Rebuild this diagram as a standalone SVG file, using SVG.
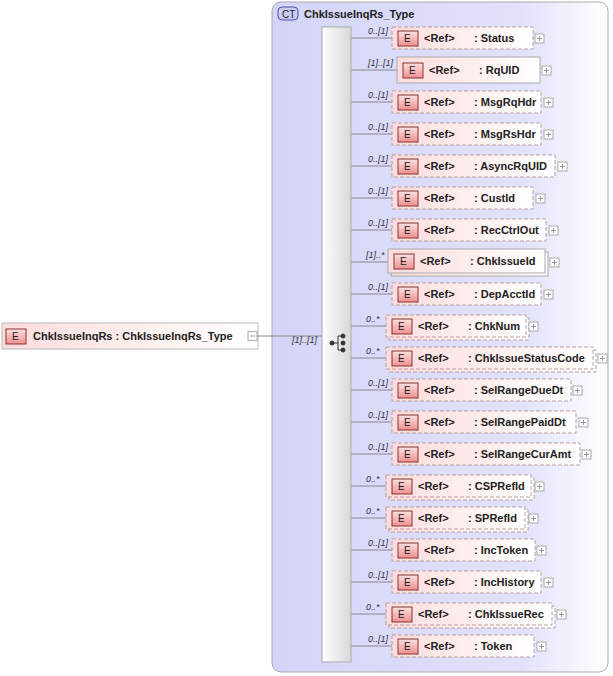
<svg xmlns="http://www.w3.org/2000/svg" width="613" height="676" viewBox="0 0 613 676">
<defs>
<linearGradient id="ct" x1="0" x2="1" y1="0" y2="0"><stop offset="0" stop-color="#d4d4f8"/><stop offset="0.75" stop-color="#e2e2fb"/><stop offset="1" stop-color="#ffffff"/></linearGradient>
<linearGradient id="seq" x1="0" x2="1"><stop offset="0" stop-color="#ffffff"/><stop offset="1" stop-color="#d8d8d8"/></linearGradient>
<linearGradient id="el" x1="0" x2="1"><stop offset="0" stop-color="#fcdcdc"/><stop offset="1" stop-color="#ffffff"/></linearGradient>
<linearGradient id="ic" x1="0" x2="0" y1="0" y2="1"><stop offset="0" stop-color="#fbe0e0"/><stop offset="1" stop-color="#f09090"/></linearGradient>
<g id="plus"><rect x="0" y="0" width="9" height="9" fill="#fff" stroke="#aaa"/><path d="M2 4.5h5M4.5 2v5" stroke="#999"/></g>
</defs>
<style>
text{font-family:"Liberation Sans",Arial,sans-serif;font-size:11px;font-weight:bold;fill:#222}
.m{font-size:9px;font-style:italic;font-weight:normal;fill:#333}
.opt{fill:url(#el);stroke:#b8a0a0;stroke-dasharray:4 2}
.req{fill:url(#el);stroke:#aaa}
.ic{fill:url(#ic);stroke:#8a3030}
.e{font-size:10px;font-weight:normal;fill:#222}
.ln{stroke:#888;fill:none}
</style>
<g id="ct-box">
<rect x="272" y="2" width="336" height="670" rx="9" fill="url(#ct)" stroke="#aaa"/>
<rect x="278" y="7" width="20" height="13" rx="4" fill="#ccccf8" stroke="#5050a0"/>
<text x="282" y="17.5" class="e" style="font-size:10px">CT</text>
<text x="304" y="18">ChkIssueInqRs_Type</text>
</g>
<g id="root">
<rect x="2" y="323" width="256" height="26" fill="url(#el)" stroke="#bbb"/>
<rect x="6" y="329" width="20" height="15" class="ic"/>
<text x="12" y="340" class="e">E</text>
<text x="33" y="340">ChkIssueInqRs : ChkIssueInqRs_Type</text>
<rect x="248" y="331.5" width="9" height="9" fill="#fff" stroke="#aaa"/><path d="M250 336h5" stroke="#999"/>
</g>
<g id="connectors">
<path class="ln" d="M257 336H322"/>
<text x="292" y="343" class="m">[1]..[1]</text>
<path class="ln" d="M351 38H392M351 70H397M351 102H392M351 134H392M351 166H392M351 198H392M351 230H392M351 262H388M351 294H392M351 326H386M351 358H386M351 390H392M351 422H392M351 454H392M351 486H386M351 518H386M351 550H392M351 582H392M351 614H386M351 646H392"/>
</g>
<g id="sequence">
<rect x="322" y="27" width="29" height="635" fill="url(#seq)" stroke="#aaa"/>
<g fill="#333" stroke="#333">
<circle cx="332" cy="343" r="2"/><circle cx="343" cy="336" r="2"/><circle cx="343" cy="343" r="2"/><circle cx="343" cy="350" r="2"/>
<path d="M332 343H338M338 336V350M338 336H343M338 350H343" fill="none"/>
</g>
</g>
<g id="n-Status"><text x="368" y="34" class="m">0..[1]</text><rect x="392" y="27" width="141" height="22" class="opt"/><rect x="398" y="31" width="20" height="15" class="ic"/><text x="404" y="42" class="e">E</text><text x="424" y="42">&lt;Ref&gt;</text><text x="474" y="42">: Status</text><use href="#plus" x="535" y="34"/></g>
<g id="n-RqUID"><text x="368" y="66" class="m">[1]..[1]</text><rect x="397" y="57" width="143" height="26" class="req"/><rect x="403" y="63" width="20" height="15" class="ic"/><text x="409" y="74" class="e">E</text><text x="429" y="74">&lt;Ref&gt;</text><text x="479" y="74">: RqUID</text><use href="#plus" x="542" y="66"/></g>
<g id="n-MsgRqHdr"><text x="368" y="98" class="m">0..[1]</text><rect x="392" y="91" width="149" height="22" class="opt"/><rect x="398" y="95" width="20" height="15" class="ic"/><text x="404" y="106" class="e">E</text><text x="424" y="106">&lt;Ref&gt;</text><text x="474" y="106">: MsgRqHdr</text><use href="#plus" x="544" y="98"/></g>
<g id="n-MsgRsHdr"><text x="368" y="130" class="m">0..[1]</text><rect x="392" y="123" width="149" height="22" class="opt"/><rect x="398" y="127" width="20" height="15" class="ic"/><text x="404" y="138" class="e">E</text><text x="424" y="138">&lt;Ref&gt;</text><text x="474" y="138">: MsgRsHdr</text><use href="#plus" x="544" y="130"/></g>
<g id="n-AsyncRqUID"><text x="368" y="162" class="m">0..[1]</text><rect x="392" y="155" width="163" height="22" class="opt"/><rect x="398" y="159" width="20" height="15" class="ic"/><text x="404" y="170" class="e">E</text><text x="424" y="170">&lt;Ref&gt;</text><text x="474" y="170">: AsyncRqUID</text><use href="#plus" x="558" y="162"/></g>
<g id="n-CustId"><text x="368" y="194" class="m">0..[1]</text><rect x="392" y="187" width="141" height="22" class="opt"/><rect x="398" y="191" width="20" height="15" class="ic"/><text x="404" y="202" class="e">E</text><text x="424" y="202">&lt;Ref&gt;</text><text x="474" y="202">: CustId</text><use href="#plus" x="536" y="194"/></g>
<g id="n-RecCtrlOut"><text x="368" y="226" class="m">0..[1]</text><rect x="392" y="219" width="154" height="22" class="opt"/><rect x="398" y="223" width="20" height="15" class="ic"/><text x="404" y="234" class="e">E</text><text x="424" y="234">&lt;Ref&gt;</text><text x="474" y="234">: RecCtrlOut</text><use href="#plus" x="549" y="226"/></g>
<g id="n-ChkIssueId"><text x="366" y="258" class="m">[1]..*</text><rect x="391" y="252" width="157" height="24" class="req"/><rect x="388" y="249" width="157" height="24" class="req"/><rect x="394" y="254" width="20" height="15" class="ic"/><text x="400" y="265" class="e">E</text><text x="420" y="265">&lt;Ref&gt;</text><text x="470" y="265">: ChkIssueId</text><use href="#plus" x="550" y="258"/></g>
<g id="n-DepAcctId"><text x="368" y="290" class="m">0..[1]</text><rect x="392" y="283" width="149" height="22" class="opt"/><rect x="398" y="287" width="20" height="15" class="ic"/><text x="404" y="298" class="e">E</text><text x="424" y="298">&lt;Ref&gt;</text><text x="474" y="298">: DepAcctId</text><use href="#plus" x="544" y="290"/></g>
<g id="n-ChkNum"><text x="366" y="322" class="m">0..*</text><rect x="389" y="318" width="140" height="22" class="opt"/><rect x="386" y="315" width="140" height="22" class="opt"/><rect x="392" y="319" width="20" height="15" class="ic"/><text x="398" y="330" class="e">E</text><text x="418" y="330">&lt;Ref&gt;</text><text x="468" y="330">: ChkNum</text><use href="#plus" x="529" y="322"/></g>
<g id="n-ChkIssueStatusCode"><text x="366" y="354" class="m">0..*</text><rect x="389" y="350" width="207" height="22" class="opt"/><rect x="386" y="347" width="207" height="22" class="opt"/><rect x="392" y="351" width="20" height="15" class="ic"/><text x="398" y="362" class="e">E</text><text x="418" y="362">&lt;Ref&gt;</text><text x="468" y="362">: ChkIssueStatusCode</text><use href="#plus" x="598" y="354"/></g>
<g id="n-SelRangeDueDt"><text x="368" y="386" class="m">0..[1]</text><rect x="392" y="379" width="179" height="22" class="opt"/><rect x="398" y="383" width="20" height="15" class="ic"/><text x="404" y="394" class="e">E</text><text x="424" y="394">&lt;Ref&gt;</text><text x="474" y="394">: SelRangeDueDt</text><use href="#plus" x="573" y="386"/></g>
<g id="n-SelRangePaidDt"><text x="368" y="418" class="m">0..[1]</text><rect x="392" y="411" width="184" height="22" class="opt"/><rect x="398" y="415" width="20" height="15" class="ic"/><text x="404" y="426" class="e">E</text><text x="424" y="426">&lt;Ref&gt;</text><text x="474" y="426">: SelRangePaidDt</text><use href="#plus" x="579" y="418"/></g>
<g id="n-SelRangeCurAmt"><text x="368" y="450" class="m">0..[1]</text><rect x="392" y="443" width="188" height="22" class="opt"/><rect x="398" y="447" width="20" height="15" class="ic"/><text x="404" y="458" class="e">E</text><text x="424" y="458">&lt;Ref&gt;</text><text x="474" y="458">: SelRangeCurAmt</text><use href="#plus" x="582" y="450"/></g>
<g id="n-CSPRefId"><text x="366" y="482" class="m">0..*</text><rect x="389" y="478" width="145" height="22" class="opt"/><rect x="386" y="475" width="145" height="22" class="opt"/><rect x="392" y="479" width="20" height="15" class="ic"/><text x="398" y="490" class="e">E</text><text x="418" y="490">&lt;Ref&gt;</text><text x="468" y="490">: CSPRefId</text><use href="#plus" x="535" y="482"/></g>
<g id="n-SPRefId"><text x="366" y="514" class="m">0..*</text><rect x="389" y="510" width="139" height="22" class="opt"/><rect x="386" y="507" width="139" height="22" class="opt"/><rect x="392" y="511" width="20" height="15" class="ic"/><text x="398" y="522" class="e">E</text><text x="418" y="522">&lt;Ref&gt;</text><text x="468" y="522">: SPRefId</text><use href="#plus" x="529" y="514"/></g>
<g id="n-IncToken"><text x="368" y="546" class="m">0..[1]</text><rect x="392" y="539" width="143" height="22" class="opt"/><rect x="398" y="543" width="20" height="15" class="ic"/><text x="404" y="554" class="e">E</text><text x="424" y="554">&lt;Ref&gt;</text><text x="474" y="554">: IncToken</text><use href="#plus" x="537" y="546"/></g>
<g id="n-IncHistory"><text x="368" y="578" class="m">0..[1]</text><rect x="392" y="571" width="149" height="22" class="opt"/><rect x="398" y="575" width="20" height="15" class="ic"/><text x="404" y="586" class="e">E</text><text x="424" y="586">&lt;Ref&gt;</text><text x="474" y="586">: IncHistory</text><use href="#plus" x="544" y="578"/></g>
<g id="n-ChkIssueRec"><text x="366" y="610" class="m">0..*</text><rect x="389" y="606" width="166" height="22" class="opt"/><rect x="386" y="603" width="166" height="22" class="opt"/><rect x="392" y="607" width="20" height="15" class="ic"/><text x="398" y="618" class="e">E</text><text x="418" y="618">&lt;Ref&gt;</text><text x="468" y="618">: ChkIssueRec</text><use href="#plus" x="557" y="610"/></g>
<g id="n-Token"><text x="368" y="642" class="m">0..[1]</text><rect x="392" y="635" width="142" height="22" class="opt"/><rect x="398" y="639" width="20" height="15" class="ic"/><text x="404" y="650" class="e">E</text><text x="424" y="650">&lt;Ref&gt;</text><text x="474" y="650">: Token</text><use href="#plus" x="537" y="642"/></g>
</svg>
